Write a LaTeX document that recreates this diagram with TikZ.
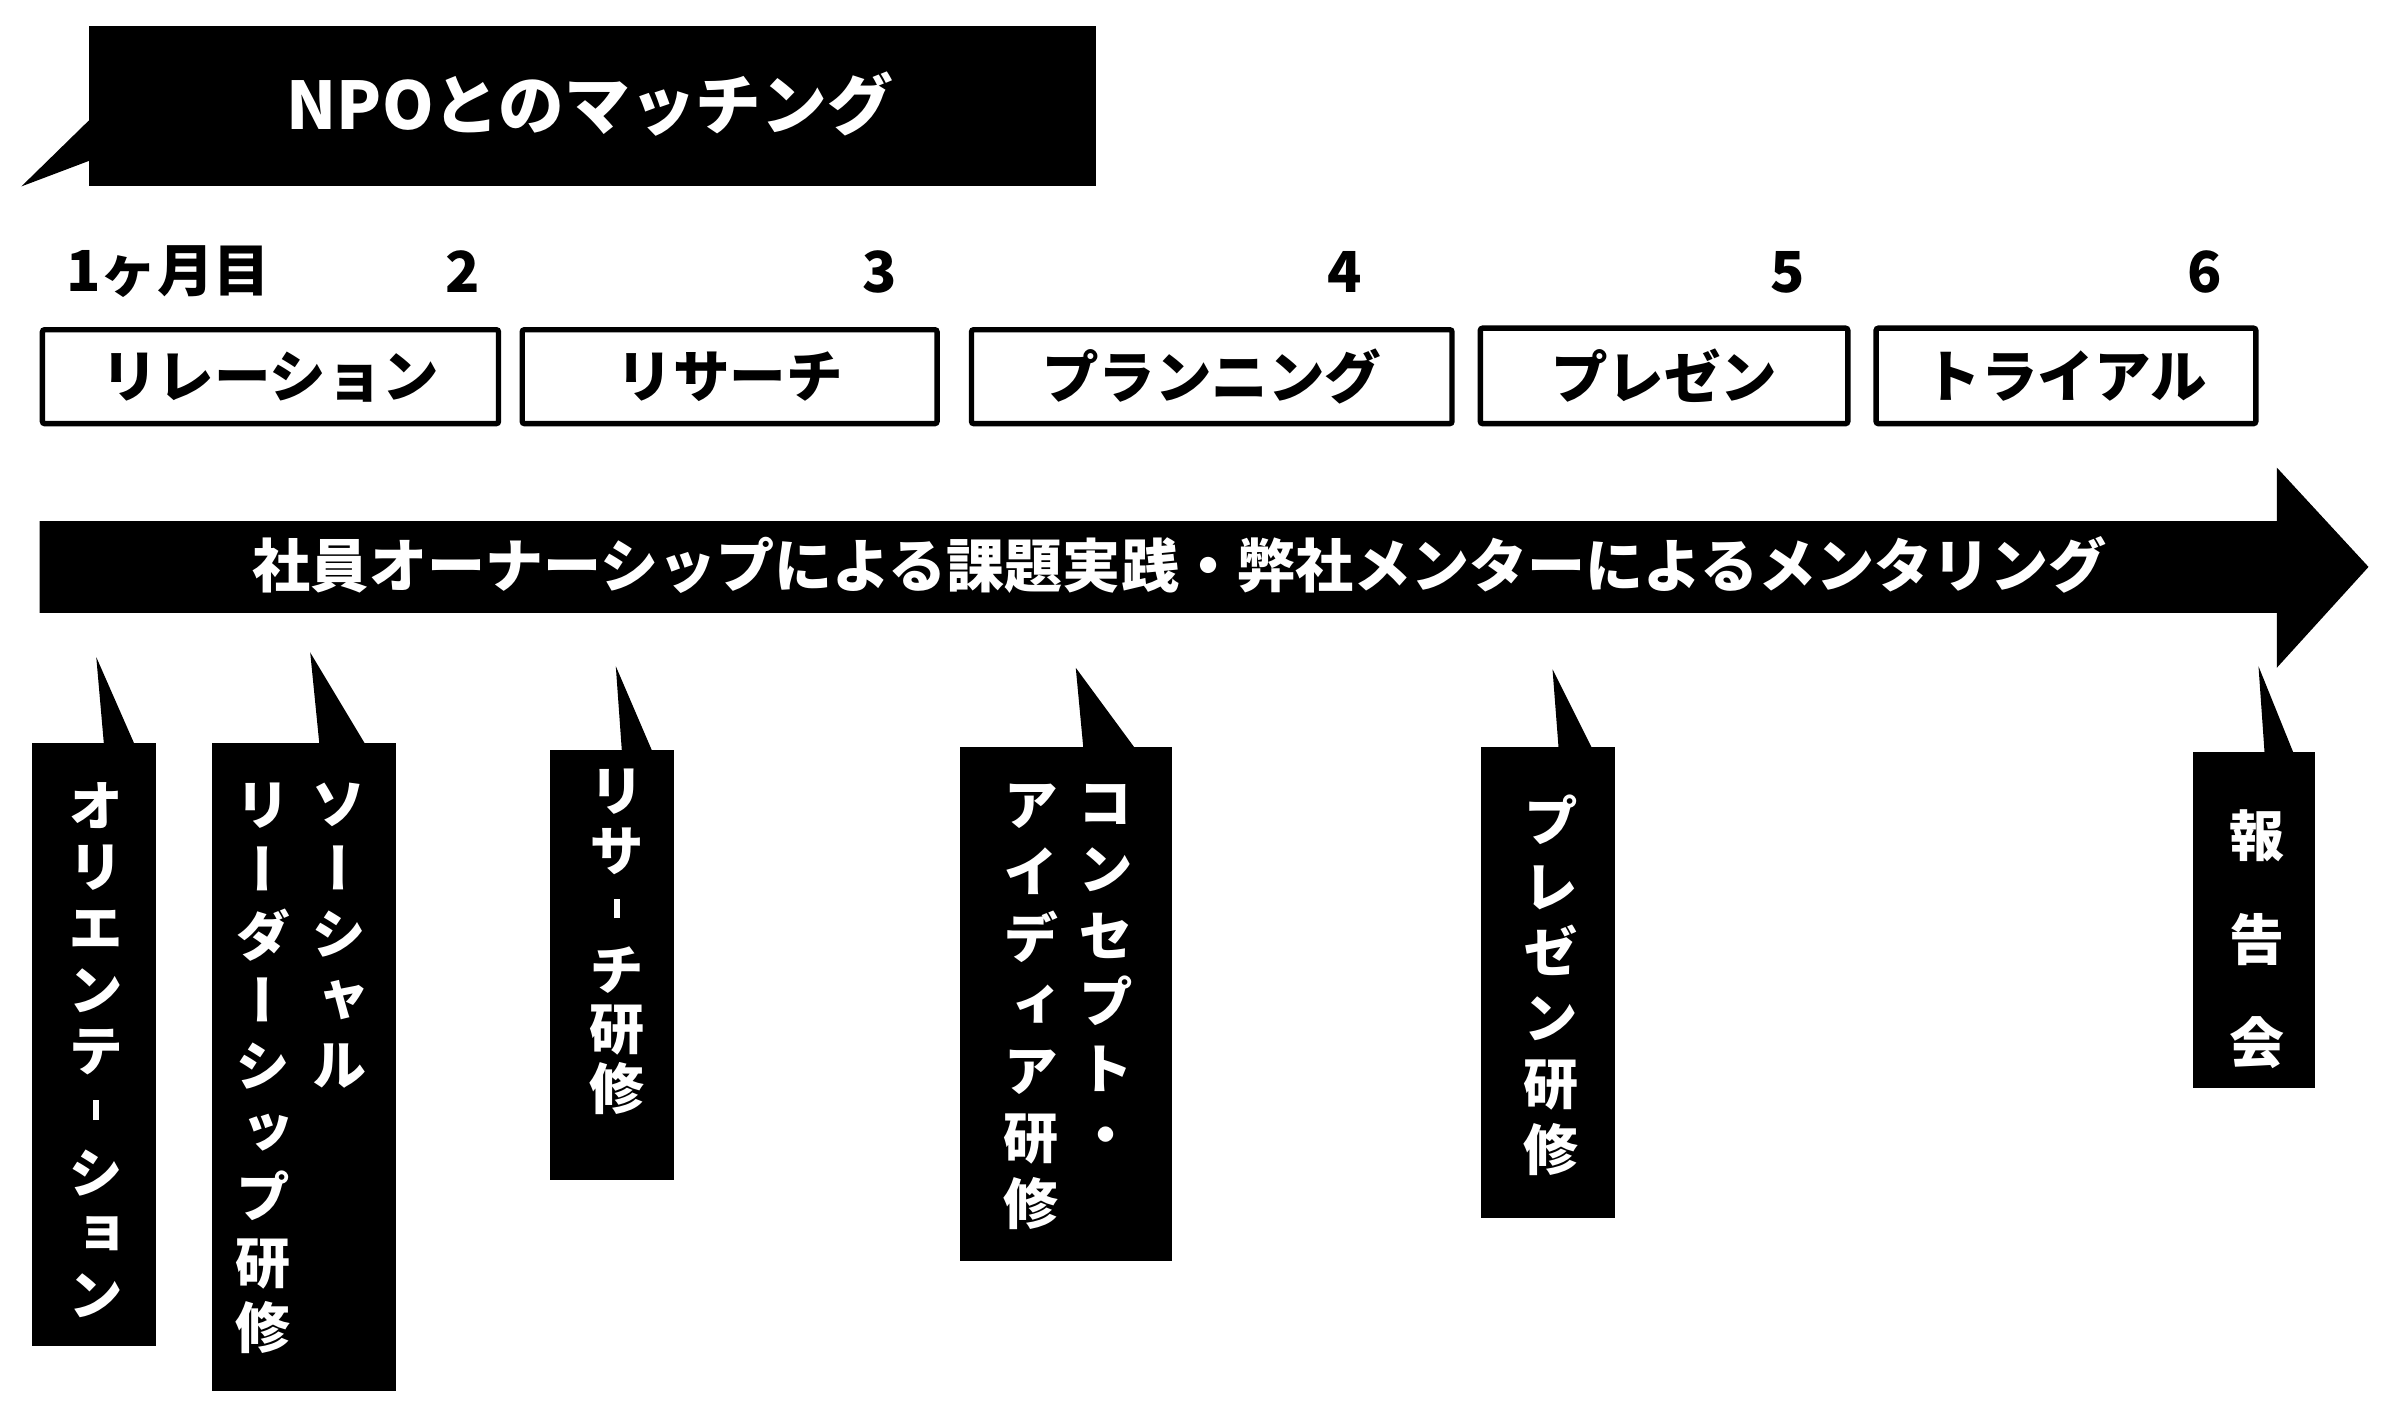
\documentclass[tikz,border=0pt]{standalone}
\usepackage{fontspec}
\usepackage{graphicx}
\newfontfamily\jp{Noto Sans CJK JP}
\newfontfamily\jpv{Noto Sans CJK JP}[RawFeature=+vert]
\newcommand\vhy{\raisebox{8pt}{\rule{3.8pt}{13pt}}}
\tikzset{
  blackbox/.style={fill=black, draw=none, inner sep=0pt},
  phasebox/.style={draw=black, line width=3.5pt, fill=white, rounded corners=1.5pt, inner sep=0pt,
    font=\jp\bfseries\fontsize{37}{40}\selectfont},
  monthlbl/.style={font=\jp\bfseries\fontsize{37}{40}\selectfont, inner sep=0pt},
  vtext/.style={text=white, align=center, inner sep=0pt, anchor=north,
    font=\jpv\bfseries\fontsize{36}{#1}\selectfont},
  vtext/.default=40,
}
\begin{document}
\begin{tikzpicture}[x=1pt,y=-1pt]
\useasboundingbox (0,0) rectangle (1568,925);

% top callout
\node[blackbox, minimum width=659pt, minimum height=105pt] (npo) at (387.5,69.5) {};
\fill (58,79) -- (14,122) -- (59,105) -- (59,79) -- cycle;
\node[text=white, font=\jp\bfseries\fontsize{43}{46}\selectfont, inner sep=0pt] (npot) at (386,68) {NPOとのマッチング};

% months
\node[monthlbl] (m1) at (110,178) {1ヶ月目};
\node[monthlbl] (m2) at (303,178) {2};
\node[monthlbl] (m3) at (576,178) {3};
\node[monthlbl] (m4) at (880,178) {4};
\node[monthlbl] (m5) at (1170,178) {5};
\node[monthlbl] (m6) at (1443,178) {6};

% phases
\node[phasebox, minimum width=298.5pt, minimum height=61.5pt] (p1) at (177,246.5) {リレーション};
\node[phasebox, minimum width=271.5pt, minimum height=61.5pt] (p2) at (477.5,246.5) {リサーチ};
\node[phasebox, minimum width=314.5pt, minimum height=61.5pt] (p3) at (793,246.5) {プランニング};
\node[phasebox, minimum width=240.5pt, minimum height=62.5pt] (p4) at (1089,246) {プレゼン};
\node[phasebox, minimum width=248.5pt, minimum height=62.5pt] (p5) at (1352,246) {トライアル};

% big arrow
\fill (26,341) -- (1490,341) -- (1490,306) -- (1550,371) -- (1490,437) -- (1490,401) -- (26,401) -- cycle;
\node[text=white, font=\jp\bfseries\fontsize{38}{40}\selectfont, inner sep=0pt] (arrt) at (772,370)
  {社員オーナーシップによる課題実践・弊社メンターによるメンタリング};

% bottom callouts
\node[blackbox, minimum width=81pt, minimum height=395pt] (c1) at (61.5,683.5) {};
\fill (63,430) -- (68,487) -- (88,487) -- cycle;
\node[vtext=40] (v1) at (63,512) {オ\\リ\\エ\\ン\\テ\\\vhy\\シ\\ョ\\ン};

\node[blackbox, minimum width=120pt, minimum height=424pt] (c2) at (199,698) {};
\fill (203,427) -- (209,487) -- (239,487) -- cycle;
\node[vtext=42.8] (v2a) at (222,512) {ソ\\ー\\シ\\ャ\\ル};
\node[vtext=42.8] (v2b) at (172,512) {リ\\ー\\ダ\\ー\\シ\\ッ\\プ\\研\\修};

\node[blackbox, minimum width=81pt, minimum height=281pt] (c3) at (400.5,631.5) {};
\fill (403,436) -- (407,492) -- (427,492) -- cycle;
\node[vtext=39] (v3) at (404,503) {リ\\サ\\\vhy\\チ\\研\\修};

\node[blackbox, minimum width=139pt, minimum height=336pt] (c4) at (697.5,657) {};
\fill (704,437) -- (709,490) -- (743,490) -- cycle;
\node[vtext=43.5] (v4a) at (724,513) {コ\\ン\\セ\\プ\\ト\\・};
\node[vtext=43.5] (v4b) at (675,513) {ア\\イ\\デ\\ィ\\ア\\研\\修};

\node[blackbox, minimum width=88pt, minimum height=308pt] (c5) at (1013,643) {};
\fill (1016,438) -- (1020,490) -- (1042,490) -- cycle;
\node[vtext=43] (v5) at (1015,520) {プ\\レ\\ゼ\\ン\\研\\修};

\node[blackbox, minimum width=80pt, minimum height=220pt] (c6) at (1475,602) {};
\fill (1478,436) -- (1482,493) -- (1501,493) -- cycle;
\node[vtext=67.5] (v6) at (1477,530) {報\\告\\会};
\end{tikzpicture}
\end{document}
